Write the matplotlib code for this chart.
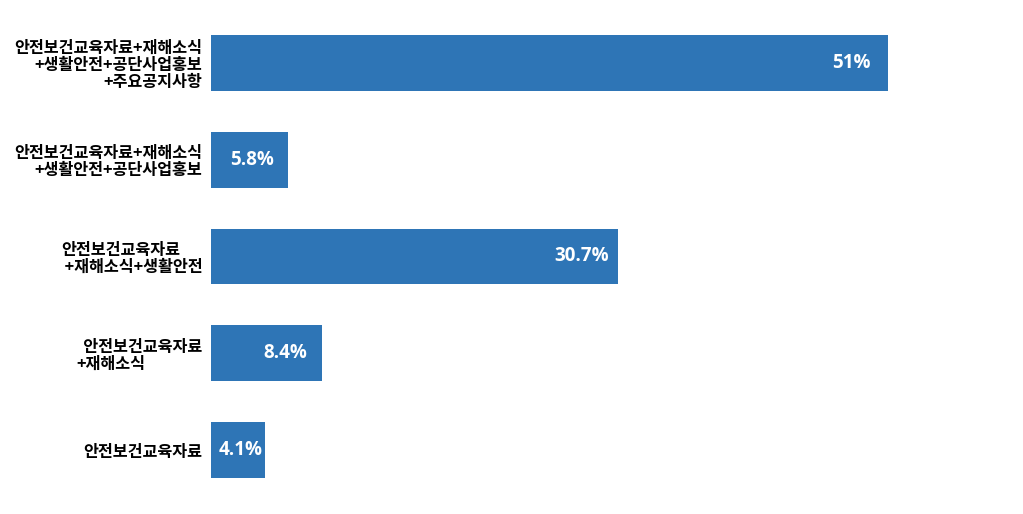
import matplotlib
matplotlib.use("Agg")
import matplotlib.pyplot as plt

plt.rcParams['font.family'] = ['Noto Sans CJK KR', 'DejaVu Sans']

# top to bottom
labels = [
    "안전보건교육자료+재해소식\n+생활안전+공단사업홍보\n+주요공지사항",
    "안전보건교육자료+재해소식\n+생활안전+공단사업홍보",
    "안전보건교육자료\n +재해소식+생활안전",
    "  안전보건교육자료\n+재해소식",
    "안전보건교육자료",
]
label_align = ["right", "right", "left", "left", "right"]
values = [51, 5.8, 30.7, 8.4, 4.1]
value_text = ["51%", "5.8%", "30.7%", "8.4%", "4.1%"]

fig = plt.figure(figsize=(10.23, 5.14), dpi=100)
ax = fig.add_axes([0.206, 0.030, 0.779, 0.942])

ypos = list(range(len(values)))
ax.barh(ypos, values, height=0.577, color="#2E75B6")
ax.set_xlim(0, 60)
ax.set_ylim(len(values) - 0.5, -0.5)

for y, v, t in zip(ypos, values, value_text):
    ax.text(max(v - 2.8, v / 2 + 0.2), y, t, ha="center", va="center",
            color="white", fontsize=13.5, fontweight="bold",
            family=["Open Sans", "DejaVu Sans"])

ax.set_yticks(ypos)
ax.set_yticklabels(labels)
for lab, al in zip(ax.get_yticklabels(), label_align):
    lab.set_multialignment(al)
    lab.set_fontweight("bold")
    lab.set_fontsize(11.7)
    lab.set_linespacing(1.1)
ax.tick_params(axis="y", length=0, pad=6)
ax.set_xticks([])
for s in ax.spines.values():
    s.set_visible(False)

fig.savefig("out.png", dpi=100)
